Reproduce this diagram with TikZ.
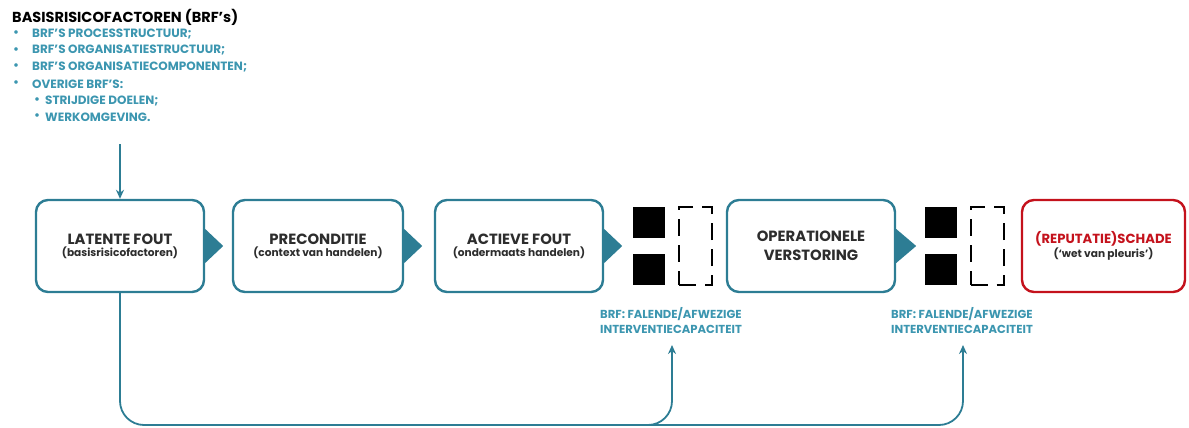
\documentclass[tikz,border=0pt]{standalone}
\usepackage{fontspec}
\setmainfont{Poppins}
\usetikzlibrary{arrows.meta}
\definecolor{tealb}{RGB}{45,125,148}
\definecolor{tealt}{RGB}{60,150,176}
\definecolor{redb}{RGB}{196,18,28}
\definecolor{dgray}{RGB}{45,45,45}
\tikzset{
  box/.style={draw=tealb, line width=2.4pt, rounded corners=12pt, minimum width=168pt, minimum height=92pt, align=center, inner sep=0pt, text=dgray},
  redbox/.style={box, draw=redb},
  tri/.style={fill=tealb, draw=none},
  sq/.style={fill=black, draw=none, minimum width=32pt, minimum height=31pt, inner sep=0pt},
  brk/.style={draw=black, line width=2pt, dash pattern=on 17pt off 9pt, minimum width=33pt, minimum height=78pt, inner sep=0pt},
  conn/.style={draw=tealb, line width=1.8pt},
  tip/.style={-{Stealth[length=9pt,width=8pt]}},
  listtxt/.style={anchor=west, inner sep=0pt, text=tealt, font=\fontsize{12}{14}\selectfont\bfseries},
  lbl/.style={align=center, inner sep=0pt, text=tealt, font=\fontsize{11.6}{15}\selectfont\bfseries}
}
\newcommand{\ttl}[1]{{\fontsize{14.8}{17}\selectfont\bfseries #1}}
\newcommand{\sbt}[1]{{\fontsize{10.6}{13}\selectfont\bfseries #1}}
\begin{document}
\begin{tikzpicture}[x=1pt,y=-1pt]
\useasboundingbox (0,0) rectangle (1189,428);
% header and list
\node[anchor=west, inner sep=0pt, font=\fontsize{14.5}{17}\selectfont\bfseries] (hd) at (12,17) {BASISRISICOFACTOREN (BRF’s)};
\node[listtxt] (b1) at (13,34) {•};
\node[listtxt] (t1) at (32,34) {BRF’S PROCESSTRUCTUUR;};
\node[listtxt] (b2) at (13,50.5) {•};
\node[listtxt] (t2) at (32,50.5) {BRF’S ORGANISATIESTRUCTUUR;};
\node[listtxt] (b3) at (13,67) {•};
\node[listtxt] (t3) at (32,67) {BRF’S ORGANISATIECOMPONENTEN;};
\node[listtxt] (b4) at (13,84) {•};
\node[listtxt] (t4) at (32,84) {OVERIGE BRF’S:};
\node[listtxt] (b5) at (34,101) {•};
\node[listtxt] (t5) at (45,101) {STRIJDIGE DOELEN;};
\node[listtxt] (b6) at (34,117) {•};
\node[listtxt] (t6) at (45,117) {WERKOMGEVING.};
% boxes
\node[box] (n1) at (120,246) {\ttl{LATENTE FOUT}\\[0pt]\sbt{(basisrisicofactoren)}};
\node[box, minimum width=170pt] (n2) at (318,246) {\ttl{PRECONDITIE}\\[0pt]\sbt{(context van handelen)}};
\node[box] (n3) at (519,246) {\ttl{ACTIEVE FOUT}\\[0pt]\sbt{(ondermaats handelen)}};
\node[box, font=\fontsize{14.8}{19}\selectfont\bfseries] (n4) at (811,246) {OPERATIONELE\\VERSTORING};
\node[redbox, minimum width=163pt] (n5) at (1103.5,246) {\textcolor{redb}{{\fontsize{13.2}{17}\selectfont\bfseries (REPUTATIE)SCHADE}}\\[0pt]\sbt{(‘wet van pleuris’)}};
% triangles
\fill[tri] ([yshift=17pt]n1.east) -- ++(18,17) -- ([yshift=-17pt]n1.east) -- cycle;
\fill[tri] ([yshift=17pt]n2.east) -- ++(18,17) -- ([yshift=-17pt]n2.east) -- cycle;
\fill[tri] ([yshift=17pt]n3.east) -- ++(18,17) -- ([yshift=-17pt]n3.east) -- cycle;
\fill[tri] ([yshift=17pt]n4.east) -- ++(20,17) -- ([yshift=-17pt]n4.east) -- cycle;
% barriers
\node[sq] (s1a) at (649,222.5) {};
\node[sq] (s1b) at (649,269) {};
\node[brk] (k1) at (695.5,246) {};
\node[sq] (s2a) at (941,222.5) {};
\node[sq] (s2b) at (941,269) {};
\node[brk] (k2) at (987,246) {};
% labels
\node[lbl] (l1) at (671,320.5) {BRF: FALENDE/AFWEZIGE\\INTERVENTIECAPACITEIT};
\node[lbl] (l2) at (962,320.5) {BRF: FALENDE/AFWEZIGE\\INTERVENTIECAPACITEIT};
% connectors
\coordinate (top) at (120,144);
\draw[conn, tip] (top) -- (n1.north);
\coordinate (c1) at (672,345);
\coordinate (c2) at (963,345);
\coordinate (bl) at (120,425);
\coordinate (bm) at (672,425);
\coordinate (br) at (963,425);
\draw[conn, tip, rounded corners=24pt] (n1.south) -- (bl) -- (br) -- (c2);
\draw[conn, tip, rounded corners=24pt] ([xshift=-40pt]bm) -- (bm) -- (c1);
\end{tikzpicture}
\end{document}
